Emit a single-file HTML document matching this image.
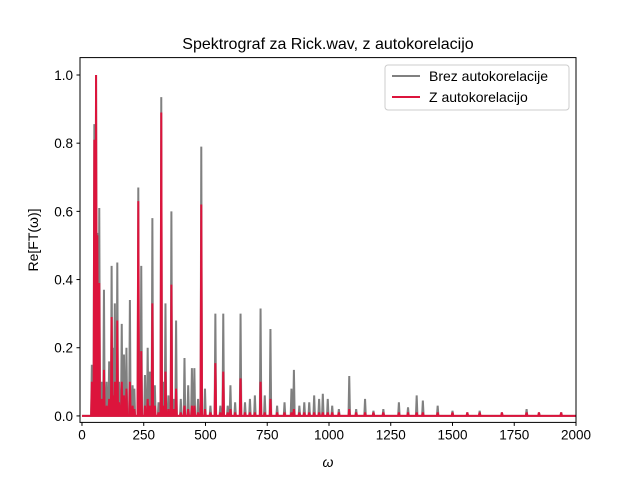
<!DOCTYPE html>
<html><head><meta charset="utf-8">
<style>
body{margin:0;background:#fff;}
svg text{font-family:"Liberation Sans","DejaVu Sans",sans-serif;fill:#000;}
</style></head>
<body>
<svg id="chart" width="640" height="480" viewBox="0 0 640 480" xmlns="http://www.w3.org/2000/svg">
<rect width="640" height="480" fill="#fff"/>
<text x="328" y="49" font-size="16" text-anchor="middle">Spektrograf za Rick.wav, z autokorelacijo</text>
<g id="plot"></g>
<rect x="80" y="57.6" width="496" height="364.8" fill="none" stroke="#000" stroke-width="1"/>
<g id="ticks"></g>
<text x="328" y="467" font-size="14" font-style="italic" text-anchor="middle">ω</text>
<text transform="translate(38,240) rotate(-90)" font-size="14" text-anchor="middle">Re[FT(ω)]</text>
<g>
<rect x="385" y="65" width="184" height="45" rx="3" fill="#fff" fill-opacity="0.8" stroke="#ccc"/>
<line x1="392" y1="76" x2="420" y2="76" stroke="#808080" stroke-width="2"/>
<text x="429" y="81" font-size="14">Brez autokorelacije</text>
<line x1="392" y1="97" x2="420" y2="97" stroke="#dc143c" stroke-width="2"/>
<text x="429" y="102" font-size="14">Z autokorelacijo</text>
</g>
</svg>
<script>
const omegas = [40,50,57,62,70,80,89,100,110,120,128,133,143,150,161,170,180,194,205,212,228,240,255,266,275,285,295,310,321,330,338,350,362,372,381,400,415,430,445,455,470,483,498,520,540,560,572,590,601,620,642,660,680,700,723,740,763,790,820,848,858,880,900,920,940,960,975,995,1013,1040,1082,1110,1146,1180,1220,1283,1320,1355,1380,1440,1500,1560,1610,1700,1800,1850,1940];
const grayVals = [0.15,0.856,1.0,0.537,0.61,0.1,0.37,0.1,0.16,0.44,0.2,0.33,0.45,0.1,0.27,0.18,0.2,0.34,0.09,0.08,0.67,0.44,0.12,0.2,0.13,0.58,0.09,0.04,0.935,0.1,0.33,0.06,0.6,0.05,0.28,0.05,0.17,0.09,0.14,0.14,0.05,0.79,0.08,0.03,0.30,0.03,0.30,0.03,0.09,0.04,0.30,0.04,0.05,0.06,0.315,0.06,0.255,0.03,0.04,0.08,0.135,0.03,0.04,0.04,0.06,0.05,0.065,0.05,0.03,0.02,0.117,0.02,0.05,0.015,0.02,0.04,0.025,0.06,0.045,0.03,0.015,0.01,0.015,0.01,0.02,0.01,0.01];
const redVals = [0.1,0.81,1.0,0.53,0.39,0.05,0.135,0.03,0.05,0.29,0.06,0.1,0.28,0.04,0.1,0.06,0.08,0.1,0.03,0.02,0.63,0.19,0.03,0.05,0.03,0.33,0.03,0.01,0.89,0.03,0.13,0.02,0.385,0.02,0.08,0.01,0.03,0.02,0.03,0.03,0.01,0.62,0.02,0.01,0.155,0.01,0.13,0.01,0.02,0.01,0.11,0.01,0.01,0.01,0.10,0.01,0.05,0.01,0.01,0.01,0.02,0.01,0.01,0.01,0.01,0.01,0.01,0.01,0.01,0.01,0.02,0.01,0.01,0.01,0.01,0.01,0.01,0.01,0.01,0.01,0.01,0.01,0.01,0.01,0.01,0.01,0.01];
const xTicks = [0,250,500,750,1000,1250,1500,1750,2000];
const yTicks = [0.0,0.2,0.4,0.6,0.8,1.0];

const NS="http://www.w3.org/2000/svg";
const X0=80,X1=576,Y0=422.4,Y1=57.6;
const xmin=-8,xmax=2000,ymin=-0.019,ymax=1.051;
function xs(v){return X0+(v-xmin)/(xmax-xmin)*(X1-X0);}
function ys(v){return Y0-(v-ymin)/(ymax-ymin)*(Y0-Y1);}
function mk(tag,attrs,parent){const e=document.createElementNS(NS,tag);for(const k in attrs)e.setAttribute(k,attrs[k]);parent.appendChild(e);return e;}
const plot=document.getElementById('plot');
const ticks=document.getElementById('ticks');

function spikes(vals,color,name){
  const g=mk('g',{},plot);
  
  
  let d='M'+xs(0)+','+ys(0);
  for(let i=0;i<omegas.length;i++){
    d+=' L'+xs(omegas[i]-3)+','+ys(0)+' L'+xs(omegas[i])+','+ys(vals[i])+' L'+xs(omegas[i]+3)+','+ys(0);
  }
  d+=' L'+xs(2000)+','+ys(0);
  const p=mk('path',{d:d,fill:'none',stroke:color,'stroke-width':2,'stroke-linejoin':'miter'},g);
  
  
}
spikes(grayVals,'#808080','series-brez-autokorelacije');
spikes(redVals,'#dc143c','series-z-autokorelacijo');

xTicks.forEach(t=>{
  const x=xs(t);
  const l=mk('line',{x1:x,y1:Y0,x2:x,y2:Y0+3.5,stroke:'#000'},ticks);
  
  
  const tx=mk('text',{x:x,y:Y0+17,'font-size':13.5,'text-anchor':'middle'},ticks);
  tx.textContent=t;
  
  
});
yTicks.forEach(t=>{
  const y=ys(t);
  const l=mk('line',{x1:X0-3.5,y1:y,x2:X0,y2:y,stroke:'#000'},ticks);
  
  
  const tx=mk('text',{x:X0-7,y:y+5,'font-size':13.5,'text-anchor':'end'},ticks);
  tx.textContent=t.toFixed(1);
  
  
});
</script>
</body></html>
